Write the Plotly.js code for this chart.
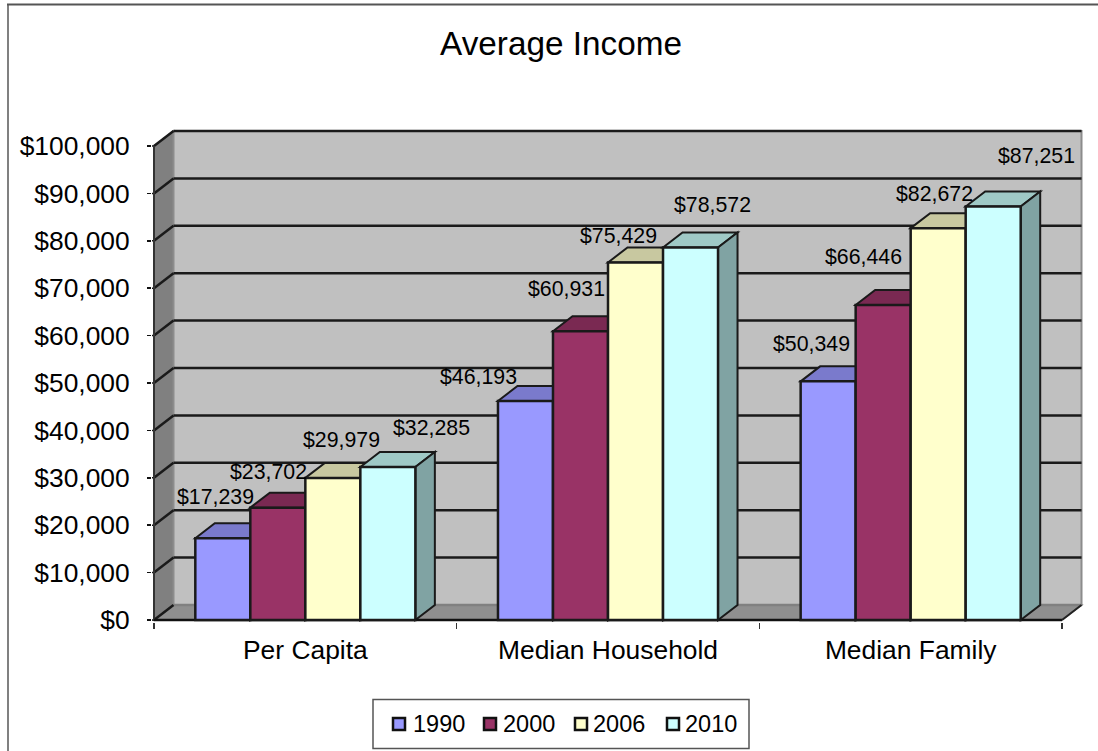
<!DOCTYPE html>
<html>
<head>
<meta charset="utf-8">
<script src="https://cdn.plot.ly/plotly-3.0.1.min.js"></script>
<style>html,body{margin:0;padding:0;background:#fff;overflow:hidden}#chart{width:1098px;height:751px}</style>
</head>
<body>
<div id="chart"></div>
<script>
// Average income by measure and census year
const categories = ['Per Capita', 'Median Household', 'Median Family'];
const seriesNames = ['1990', '2000', '2006', '2010'];
const income1990 = [17239, 46193, 50349];
const income2000 = [23702, 60931, 66446];
const income2006 = [29979, 75429, 82672];
const income2010 = [32285, 78572, 87251];
const incomeTicks = [0, 10000, 20000, 30000, 40000, 50000, 60000, 70000, 80000, 90000, 100000];

const seriesValues = [income1990, income2000, income2006, income2010];
const seriesColors = ['#9999FF', '#993366', '#FFFFCC', '#CCFFFF'];
const topColors = ['#7A7ACC', '#7A2952', '#C8C8A0', '#9FC9C6'];
const sideColors = ['#5C5C99', '#5C1F3D', '#A3A382', '#80A3A3'];

// Page geometry of the plot frame
const W = 1098, H = 751;
const pxPerCat = 302.67, pxPerDollar = 0.00474;
const frameLeft = 152, frameRight = 1084, frameTop = 129, frameBottom = 622;
const zeroPx = 620, axisLeftPx = 154;

const xMin = 0.5 - (axisLeftPx - frameLeft) / pxPerCat;
const xMax = 0.5 + (frameRight - axisLeftPx) / pxPerCat;
const yMin = -(frameBottom - zeroPx) / pxPerDollar;
const yMax = (zeroPx - frameTop) / pxPerDollar;

// Receding depth of the box, in axis units
const depthX = 19.5 / pxPerCat, depthY = 15 / pxPerDollar;
const bargap = 0.273;
const barW = (1 - bargap) / seriesNames.length;
const xEnd = categories.length + 0.5;

const poly = (pts) => 'M' + pts.map(p => p[0] + ',' + p[1]).join('L') + 'Z';
const shapes = [];
const addPoly = (pts, fill, lineColor, lineWidth) => shapes.push({
  type: 'path', xref: 'x', yref: 'y', layer: 'below', path: poly(pts), fillcolor: fill,
  line: {color: lineColor, width: lineWidth}
});
const addLine = (x0, y0, x1, y1, color, width) => shapes.push({
  type: 'line', xref: 'x', yref: 'y', layer: 'below', x0, y0, x1, y1,
  line: {color, width}
});

const maxTick = incomeTicks[incomeTicks.length - 1];
// Walls and floor
addPoly([[0.5, 0], [0.5 + depthX, depthY], [xEnd + depthX, depthY], [xEnd, 0]], '#8F8F8F', '#808080', 1.5);
addPoly([[0.5, 0], [0.5 + depthX, depthY], [0.5 + depthX, maxTick + depthY], [0.5, maxTick]], '#808080', '#777777', 1.5);
addPoly([[0.5 + depthX, depthY], [xEnd + depthX, depthY], [xEnd + depthX, maxTick + depthY], [0.5 + depthX, maxTick + depthY]], '#C0C0C0', '#8C8C8C', 2);

// Gridlines wrap from the side wall onto the back wall
incomeTicks.forEach(v => {
  const c = v === 0 ? '#808080' : '#1A1A1A';
  addLine(0.5 + depthX, v + depthY, xEnd + depthX, v + depthY, c, 2.5);
  addLine(0.5, v, 0.5 + depthX, v + depthY, '#1A1A1A', 2.5);
  addLine(xMin, v, 0.5, v, '#111111', 1.5);
});
addLine(0.5, 0, 0.5, maxTick, '#333333', 2);

// Top and side faces, left to right; front faces are the bar traces above them
categories.forEach((_, c) => {
  seriesValues.forEach((vals, s) => {
    const x0 = c + 1 + (s - seriesNames.length / 2) * barW;
    const x1 = x0 + barW;
    const v = vals[c];
    addPoly([[x0, v], [x0 + depthX, v + depthY], [x1 + depthX, v + depthY], [x1, v]], topColors[s], '#1A1A1A', 2);
    addPoly([[x1, 0], [x1 + depthX, depthY], [x1 + depthX, v + depthY], [x1, v]], sideColors[s], '#1A1A1A', 2);
  });
});

// Front edge of the floor
addLine(0.5, 0, xEnd, 0, '#111111', 2.5);
addLine(xEnd, 0, xEnd + depthX, depthY, '#222222', 2);

// Frame of the chart area: left and top edges only
const px = (x) => x / W, py = (y) => 1 - y / H;
shapes.push({type: 'line', xref: 'paper', yref: 'paper', x0: px(8), x1: px(8), y0: py(4), y1: 0, line: {color: '#808080', width: 2}});
shapes.push({type: 'line', xref: 'paper', yref: 'paper', x0: px(7), x1: 1, y0: py(4.5), y1: py(4.5), line: {color: '#555555', width: 2}});

// Legend box
const legendFont = {family: 'Liberation Sans, Arial, sans-serif', size: 23.5, color: '#000'};
shapes.push({type: 'rect', xref: 'paper', yref: 'paper', x0: px(373), x1: px(749), y0: py(699.5), y1: py(748.5),
  fillcolor: '#fff', line: {color: '#555555', width: 1.5}});
const keyLeft = [393, 484, 575, 667];
const keyTextLeft = [411, 501, 591, 683];
const annotations = [];
seriesNames.forEach((name, s) => {
  shapes.push({type: 'rect', xref: 'paper', yref: 'paper', x0: px(keyLeft[s]), x1: px(keyLeft[s] + 12),
    y0: py(718), y1: py(730), fillcolor: seriesColors[s], line: {color: '#111111', width: 2.5}});
  annotations.push({xref: 'paper', yref: 'paper', x: px(keyTextLeft[s]), y: py(724), text: name,
    xanchor: 'left', yanchor: 'middle', showarrow: false, font: legendFont});
});

// Value labels sit clear of the bar tops, each with its own nudge in pixels
const labelNudgeX = [[-7, -47, -17], [-9, -14, -20], [9, -17, -4], [44, 22, 43]];
const labelNudgeY = [[41, 24, 37], [36, 42, 48], [38, 26.5, 34], [39, 42.6, 50]];
const money = (v) => '$' + v.toLocaleString('en-US');
seriesValues.forEach((vals, s) => {
  vals.forEach((v, c) => {
    annotations.push({
      xref: 'x', yref: 'y', x: c + 1 + (s + 0.5 - seriesNames.length / 2) * barW, y: v,
      xshift: labelNudgeX[s][c], yshift: labelNudgeY[s][c],
      xanchor: 'center', yanchor: 'middle', showarrow: false, text: money(v),
      font: {family: 'Liberation Sans, Arial, sans-serif', size: 21.3, color: '#000'}
    });
  });
});

const traces = seriesNames.map((name, s) => ({
  type: 'bar', name, x: categories.map((_, c) => c + 1), y: seriesValues[s],
  marker: {color: seriesColors[s], line: {color: '#1A1A1A', width: 2.5}},
  showlegend: false, hoverinfo: 'name+y'
}));

const axisFont = {family: 'Liberation Sans, Arial, sans-serif', size: 26.4, color: '#000'};
const layout = {
  width: W, height: H, margin: {l: 0, r: 0, t: 0, b: 0},
  paper_bgcolor: '#fff', plot_bgcolor: 'rgba(0,0,0,0)',
  barmode: 'group', bargap, bargroupgap: 0, showlegend: false,
  title: {text: 'Average Income', x: 561 / W, y: py(43.5), xanchor: 'center', yanchor: 'middle',
    font: {family: 'Liberation Sans, Arial, sans-serif', size: 33.3, color: '#000'}},
  xaxis: {
    domain: [frameLeft / W, frameRight / W], range: [xMin, xMax], showgrid: false, zeroline: false, showline: false,
    tickmode: 'array', tickvals: categories.map((_, c) => c + 1), ticktext: categories,
    ticks: '', tickfont: axisFont, ticklabelstandoff: 10,
    minor: {tickmode: 'array', tickvals: [0.5, 1.5, 2.5, 3.5], ticks: 'outside', ticklen: 6, tickwidth: 1.5, tickcolor: '#333', showgrid: false}
  },
  yaxis: {
    domain: [1 - frameBottom / H, 1 - frameTop / H], range: [yMin, yMax], showgrid: false, zeroline: false, showline: false,
    tickmode: 'array', tickvals: incomeTicks, ticktext: incomeTicks.map(money),
    ticks: 'outside', ticklen: 4, tickwidth: 1.5, tickcolor: '#111', tickfont: axisFont, ticklabelstandoff: 12
  },
  shapes, annotations
};

Plotly.newPlot('chart', traces, layout, {displayModeBar: false, staticPlot: true});
</script>
</body>
</html>
